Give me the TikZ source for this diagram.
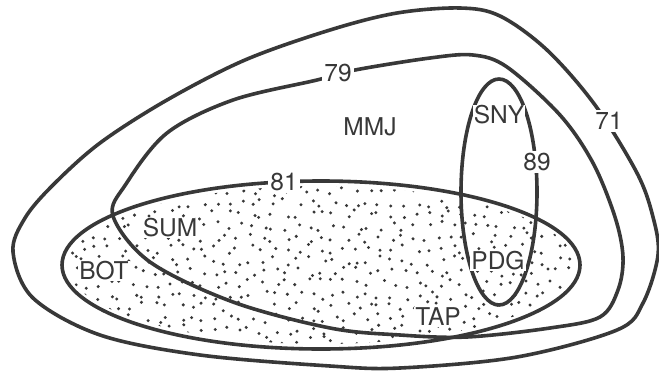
\documentclass[tikz,border=0pt]{standalone}
\usepackage{fontspec}
\setmainfont{TeX Gyre Heros}
\definecolor{ink}{HTML}{383838}
\tikzset{
  curve/.style={draw=ink, line width=3.6pt, line join=round},
  lbl/.style={text=ink, font=\fontsize{24.5}{28}\selectfont, inner sep=1pt},
  cut/.style={lbl, fill=white, inner sep=2pt},
}
\begin{document}
\begin{tikzpicture}[x=1pt,y=-1pt]
\useasboundingbox (0,0) rectangle (659,370);
\fill[white] (0,0) rectangle (659,370);
% stipple inside ellipse 81
\begin{scope}
  \clip (321,265) ellipse [x radius=254pt, y radius=79pt];
  \pgfmathsetseed{7}
  \foreach \i in {0,...,44}{
    \foreach \j in {0,...,15}{
      \pgfmathsetmacro\px{62+\i*11.8+4.8*rand}
      \pgfmathsetmacro\py{180+\j*11.5+4.8*rand}
      \fill[ink] (\px,\py) circle[radius=1.65pt];
    }}
\end{scope}
% outer curve 71
\draw[curve] plot[smooth cycle, tension=0.55] coordinates {
  (460,8) (500,16) (547,50) (595,105) (637,173) (653,217) (658,255)
  (643,303) (617,330) (517,357) (400,368) (330,366) (200,355)
  (100,335) (33,298) (13,252) (25,218) (53,185) (100,143) (167,100)
  (245,60) (330,30) (397,13)};
% curve 79
\draw[curve] plot[smooth cycle, tension=0.55] coordinates {
  (113,216) (150,262) (233,302) (330,328) (400,335) (467,337)
  (550,328) (600,317) (618,290) (623,257) (615,217) (593,163)
  (560,115) (507,67) (473,55) (430,58) (355,70) (317,80) (233,100)
  (167,133) (126,184)};
% ellipse 81
\draw[curve] (321,265) ellipse [x radius=259pt, y radius=84pt];
% ellipse 89
\draw[curve] (499,192) ellipse [x radius=38pt, y radius=113pt];
% labels
\node[cut] (l71) at (609,121) {71};
\node[cut] (l79) at (338,73) {79};
\node[cut] (l81) at (284,182) {81};
\node[cut] (l89) at (537,162) {89};
\node[lbl, fill=white, inner sep=0.5pt] (sny) at (499,115) {SNY};
\node[lbl] (mmj) at (370,127) {MMJ};
\node[lbl, fill=white] (sum) at (170,228) {SUM};
\node[lbl, fill=white] (bot) at (104,271) {BOT};
\node[lbl, fill=white] (pdg) at (498,261) {PDG};
\node[lbl, fill=white] (tap) at (438,317) {TAP};
\end{tikzpicture}
\end{document}
